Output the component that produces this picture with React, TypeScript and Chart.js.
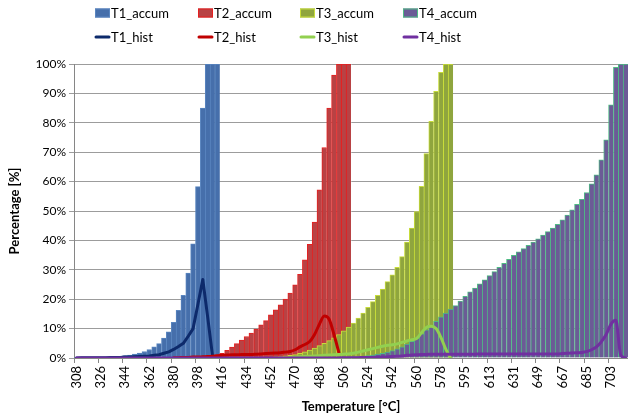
import React, { useEffect, useRef } from 'react';
import { Chart, registerables } from 'chart.js';

Chart.register(...registerables);

// ---- categories / tick labels ----
const tickLabels = ['308', '326', '344', '362', '380', '398', '416', '434', '452', '470', '488', '506', '524', '542', '560', '578', '595', '613', '631', '649', '667', '685', '703'];
const categoryCount = 114;
const categoriesPerTick = 5;

// ---- series (start category index + values) ----
const t1AccumStart = 0;
const t1Accum = [0.05, 0.1, 0.1, 0.15, 0.2, 0.25, 0.3, 0.4, 0.5, 0.6, 0.8, 1.0, 1.3, 1.7, 2.2, 2.9, 3.8, 4.9, 6.8, 8.9, 12.1, 16.2, 21.3, 28.9, 38.8, 58.3, 85.0, 100, 100, 100];

const t2AccumStart = 22;
const t2Accum = [0.2, 0.3, 0.35, 0.45, 0.55, 0.7, 0.85, 1.1, 1.6, 2.6, 3.7, 4.9, 6.1, 7.3, 8.5, 9.8, 11.3, 12.7, 14.7, 16.4, 18.1, 20.0, 22.1, 24.9, 28.5, 33.4, 38.7, 46.2, 57.2, 71.6, 85.0, 96.2, 100, 100, 100];

const t3AccumStart = 40;
const t3Accum = [0.3, 0.4, 0.5, 0.7, 0.9, 1.2, 1.6, 2.1, 2.7, 3.4, 4.2, 5.0, 5.9, 6.9, 8.0, 9.2, 10.5, 11.9, 13.6, 15.3, 17.2, 19.2, 21.3, 23.4, 26.0, 28.3, 30.8, 34.5, 39.4, 44.2, 49.8, 58.4, 69.5, 80.5, 90.7, 97.2, 100, 100];

const t4AccumStart = 55;
const t4Accum = [0.2, 0.3, 0.4, 0.5, 0.6, 0.8, 1.0, 1.3, 1.6, 2.0, 2.5, 3.1, 3.8, 4.7, 5.7, 6.9, 8.2, 9.6, 11.0, 12.5, 14.0, 15.3, 16.6, 17.8, 19.4, 21.0, 22.5, 23.8, 25.2, 26.6, 28.0, 29.4, 30.8, 32.2, 33.6, 34.9, 36.1, 37.2, 38.3, 39.4, 40.5, 41.8, 43.0, 44.2, 45.5, 47.0, 48.6, 50.4, 52.3, 54.0, 56.3, 59.2, 62.3, 67.4, 74.2, 86.1, 98.9, 100, 100];

const t1HistStart = 0;
const t1Hist = [0, 0.05, 0.05, 0.05, 0.1, 0.1, 0.1, 0.15, 0.2, 0.2, 0.3, 0.3, 0.4, 0.5, 0.6, 0.7, 0.9, 1.1, 1.6, 2.1, 2.9, 3.9, 5.0, 7.4, 10.0, 18.3, 26.7, 14.0, 0.8];

const t2HistStart = 20;
const t2Hist = [0.1, 0.1, 0.2, 0.2, 0.3, 0.3, 0.4, 0.5, 0.6, 0.8, 0.9, 1.0, 1.1, 1.1, 1.2, 1.2, 1.2, 1.3, 1.4, 1.5, 1.6, 1.7, 1.8, 2.0, 2.2, 2.8, 3.8, 4.6, 5.6, 8.0, 11.5, 14.3, 13.2, 8.0, 1.9];

const t3HistStart = 44;
const t3Hist = [0.2, 0.3, 0.4, 0.5, 0.6, 0.7, 0.8, 0.9, 1.0, 1.1, 1.2, 1.3, 1.4, 1.6, 2.0, 2.4, 2.8, 3.2, 3.6, 4.0, 4.3, 4.5, 4.8, 5.3, 5.8, 6.2, 6.6, 8.6, 10.4, 10.8, 10.0, 7.0, 3.0, 0];

const t4HistStart = 0;
const t4Hist = [
  0, 0, 0, 0, 0, 0, 0, 0, 0, 0,
  0, 0, 0, 0, 0, 0, 0, 0, 0, 0,
  0, 0, 0, 0, 0, 0, 0, 0, 0, 0,
  0, 0, 0, 0, 0, 0, 0, 0, 0, 0,
  0, 0, 0, 0, 0, 0, 0, 0, 0, 0,
  0, 0, 0, 0, 0, 0.1, 0.1, 0.1, 0.1, 0.2,
  0.2, 0.2, 0.3, 0.3, 0.4, 0.5, 0.6, 0.7, 0.9, 1.0,
  1.1, 1.2, 1.2, 1.3, 1.3, 1.3, 1.3, 1.3, 1.3, 1.3,
  1.3, 1.3, 1.3, 1.4, 1.4, 1.4, 1.4, 1.4, 1.4, 1.4,
  1.4, 1.4, 1.4, 1.4, 1.4, 1.4, 1.4, 1.4, 1.4, 1.4,
  1.5, 1.6, 1.7, 1.8, 1.9, 2.2, 2.8, 3.8, 5.5, 8.0,
  11.5, 12.8, 1.0, 0,
];

function place(start: number, values: number[]): (number | null)[] {
  const out: (number | null)[] = new Array(categoryCount).fill(null);
  values.forEach((v, i) => {
    if (start + i < categoryCount) out[start + i] = v;
  });
  return out;
}

const categoryLabels: string[] = Array.from({ length: categoryCount }, (_, i) =>
  i % categoriesPerTick === 0 && tickLabels[i / categoriesPerTick] ? tickLabels[i / categoriesPerTick] : ''
);

const FONT = 'Lato, "Open Sans", "DejaVu Sans", sans-serif';

const legendPlugin = {
  id: 'gridLegend',
  afterDraw(chart: any) {
    const ctx = chart.ctx;
    const colX = [95, 198, 300, 403];
    const rowY = [13, 37];
    ctx.save();
    ctx.font = `13px ${FONT}`;
    ctx.textBaseline = 'middle';
    ctx.textAlign = 'left';
    chart.data.datasets.forEach((ds: any, i: number) => {
      const x = colX[i % 4];
      const y = rowY[Math.floor(i / 4)];
      if (ds.type === 'bar') {
        ctx.fillStyle = ds.backgroundColor;
        ctx.fillRect(x, y - 4.5, 15, 9);
        ctx.strokeStyle = ds.borderColor;
        ctx.lineWidth = 1;
        ctx.strokeRect(x + 0.5, y - 4, 14, 8);
      } else {
        ctx.strokeStyle = ds.borderColor;
        ctx.lineWidth = 3;
        ctx.lineCap = 'round';
        ctx.beginPath();
        ctx.moveTo(x + 1, y);
        ctx.lineTo(x + 14, y);
        ctx.stroke();
      }
      ctx.fillStyle = '#000';
      ctx.fillText(ds.label, x + 16, y + 0.5);
    });
    ctx.restore();
  },
};

export default function App() {
  const canvasRef = useRef<HTMLCanvasElement | null>(null);

  useEffect(() => {
    const canvas = canvasRef.current;
    if (!canvas) return;

    const barBase = {
      type: 'bar' as const,
      grouped: false,
      barPercentage: 1,
      categoryPercentage: 1,
      borderWidth: { top: 1, left: 1, right: 0, bottom: 0 },
      borderSkipped: false as any,
    };
    const lineBase = {
      type: 'line' as const,
      borderWidth: 3,
      pointRadius: 0,
      fill: false,
      spanGaps: false,
      borderCapStyle: 'round' as const,
      borderJoinStyle: 'round' as const,
    };

    const chart = new Chart(canvas, {
      type: 'bar',
      data: {
        labels: categoryLabels,
        datasets: [
          { ...barBase, label: 'T1_accum', data: place(t1AccumStart, t1Accum), backgroundColor: '#466fab', borderColor: '#5a86c0', order: 7 },
          { ...barBase, label: 'T2_accum', data: place(t2AccumStart, t2Accum), backgroundColor: '#b84244', borderColor: '#e62020', order: 6 },
          { ...barBase, label: 'T3_accum', data: place(t3AccumStart, t3Accum), backgroundColor: '#8fa53e', borderColor: '#c8dd3a', order: 5 },
          { ...barBase, label: 'T4_accum', data: place(t4AccumStart, t4Accum), backgroundColor: '#6b5b96', borderColor: '#4fbb84', order: 4 },
          { ...lineBase, label: 'T1_hist', data: place(t1HistStart, t1Hist), borderColor: '#0d2a6b', tension: 0, order: 3 },
          { ...lineBase, label: 'T2_hist', data: place(t2HistStart, t2Hist), borderColor: '#c00000', cubicInterpolationMode: 'monotone', order: 2 },
          { ...lineBase, label: 'T3_hist', data: place(t3HistStart, t3Hist), borderColor: '#92d050', cubicInterpolationMode: 'monotone', order: 1 },
          { ...lineBase, label: 'T4_hist', data: place(t4HistStart, t4Hist), borderColor: '#7030a0', cubicInterpolationMode: 'monotone', order: 0 },
        ] as any,
      },
      options: {
        responsive: false,
        animation: false,
        events: [],
        layout: { padding: { top: 64, right: 0, bottom: 0, left: 0 } },
        plugins: {
          legend: { display: false },
          tooltip: { enabled: false },
        },
        scales: {
          x: {
            type: 'category',
            offset: true,
            grid: {
              offset: true,
              drawOnChartArea: false,
              drawTicks: true,
              tickLength: 5,
              lineWidth: 1,
              color: (c: any) => (c.index % categoriesPerTick === 0 ? '#868686' : 'rgba(0,0,0,0)'),
            },
            border: { display: true, color: '#868686', width: 1 },
            ticks: {
              autoSkip: false,
              maxRotation: 90,
              minRotation: 90,
              padding: 3,
              color: '#000',
              font: { family: FONT, size: 13 },
            },
            title: {
              display: true,
              text: 'Temperature [°C]',
              color: '#000',
              font: { family: FONT, size: 13, weight: 'bold' },
              padding: { top: 0, bottom: 2 },
            },
            afterFit: (axis: any) => {
              axis.height = 59;
              axis.paddingLeft = 0;
              axis.paddingRight = 0;
            },
          },
          y: {
            min: 0,
            max: 100,
            ticks: {
              stepSize: 10,
              color: '#000',
              padding: 3,
              font: { family: FONT, size: 12 },
              callback: (v: any) => `${v}%`,
            },
            grid: { color: '#9c9c9c', lineWidth: 1, tickLength: 5, drawTicks: true },
            border: { display: true, color: '#868686', width: 1 },
            title: {
              display: true,
              text: 'Percentage [%]',
              color: '#000',
              font: { family: FONT, size: 13, weight: 'bold' },
              padding: { top: 7, bottom: 0 },
            },
            afterFit: (axis: any) => {
              axis.width = 74;
              axis.paddingTop = 0;
              axis.paddingBottom = 0;
            },
          },
        },
      } as any,
      plugins: [legendPlugin],
    });

    return () => chart.destroy();
  }, []);

  return (
    <div style={{ position: 'fixed', left: 0, top: 0, width: 628, height: 417, background: '#fff' }}>
      <canvas ref={canvasRef} width={628} height={417} style={{ display: 'block' }} />
    </div>
  );
}
